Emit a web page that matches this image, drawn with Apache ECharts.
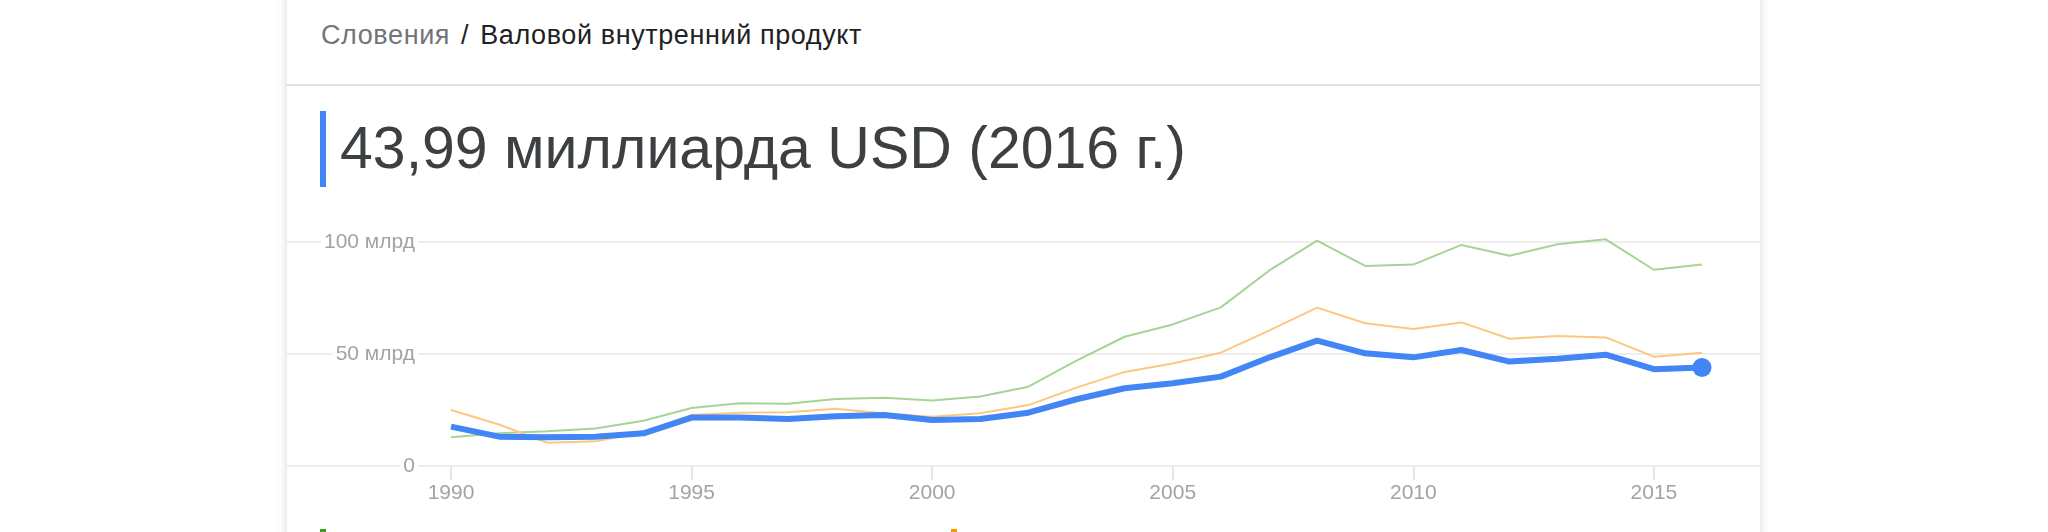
<!DOCTYPE html>
<html>
<head>
<meta charset="utf-8">
<script src="https://cdn.jsdelivr.net/npm/echarts@6/dist/echarts.min.js"></script>
<style>
  html, body { margin: 0; padding: 0; background: #fff; }
  body { width: 2048px; height: 532px; overflow: hidden; position: relative; font-family: "Liberation Sans", Arial, sans-serif; }
  .card { position: absolute; left: 287px; top: -20px; width: 1473px; height: 700px; background: #fff;
          box-shadow: 0 0 9px rgba(60, 64, 67, 0.22); }
  .divider { position: absolute; left: 287px; top: 84px; width: 1473px; height: 2px; background: #e1e1e4; }
  .crumbs { position: absolute; left: 321px; top: 22px; font-size: 27px; line-height: 27px; letter-spacing: 0.6px;
            color: #202124; white-space: nowrap; }
  .crumbs .country { color: #70757a; }
  .crumbs .sep { margin: 0 11px; color: #202124; }
  .bar { position: absolute; left: 320px; top: 111px; width: 6px; height: 76px; background: #4285f4; }
  .title { position: absolute; left: 340px; top: 119px; font-size: 59px; line-height: 59px; color: #3c4043; white-space: nowrap; }
  #chart { position: absolute; left: 0; top: 0; width: 2048px; height: 532px; }
  .key { position: absolute; top: 529px; width: 6px; height: 6px; }
</style>
</head>
<body>
<div class="card"></div>
<div class="divider"></div>
<div class="crumbs"><span class="country">Словения</span><span class="sep">/</span>Валовой внутренний продукт</div>
<div class="bar"></div>
<div class="title">43,99 миллиарда USD (2016 г.)</div>
<div id="chart"></div>
<div class="key" style="left:320px;background:#3d9b1a"></div>
<div class="key" style="left:951px;background:#f29900"></div>
<script>
// years on the x axis
const years = ["1990", "1991", "1992", "1993", "1994", "1995", "1996", "1997", "1998",
    "1999", "2000", "2001", "2002", "2003", "2004", "2005", "2006", "2007", "2008",
    "2009", "2010", "2011", "2012", "2013", "2014", "2015", "2016"];

// GDP, billions USD
const slovenia = [17.6, 13.1, 12.8, 13.1, 14.6, 21.6, 21.6, 21.0, 22.2, 22.8, 20.5, 21.0, 23.8,
    29.8, 34.7, 36.9, 39.9, 48.4, 56.0, 50.3, 48.5, 51.8, 46.6, 47.9, 49.7, 43.2, 43.99];
const croatia = [25.0, 18.5, 10.4, 11.0, 15.0, 22.8, 23.8, 24.0, 25.6, 23.4, 22.0, 23.5, 27.2,
    35.0, 42.0, 45.8, 50.6, 60.4, 70.7, 63.7, 61.2, 64.1, 56.8, 58.0, 57.4, 48.8, 50.6];
const slovakia = [12.8, 14.6, 15.5, 16.7, 20.2, 25.9, 28.0, 27.8, 29.9, 30.5, 29.2, 31.0, 35.4,
    47.0, 57.7, 63.2, 70.8, 87.2, 100.6, 89.3, 89.9, 98.7, 93.9, 99.0, 101.2, 87.6, 90.0];

const yTicks = [0, 50, 100];

const labelFont = { fontFamily: "Liberation Sans, Arial, sans-serif", fontSize: 21, color: "#a3a3a3" };

// blue line gets a dot only on the last year
const sloveniaData = slovenia.map((v, i) =>
    i === slovenia.length - 1 ? { value: v, symbol: "circle", symbolSize: 19 } : v);

const chart = echarts.init(document.getElementById("chart"));

chart.setOption({
    animation: false,
    grid: [
        // full-width grid, only for the horizontal gridlines
        { left: 287, right: 288, top: 242, bottom: 66 },
        // plotting grid
        { left: 451, right: 346, top: 242, bottom: 66 },
    ],
    xAxis: [
        { gridIndex: 0, type: "category", data: years, show: false },
        {
            gridIndex: 1,
            type: "category",
            data: years,
            boundaryGap: false,
            axisLine: { show: false },
            axisTick: { show: true, interval: 4, length: 14, lineStyle: { color: "#e6e6e6", width: 2 } },
            axisLabel: Object.assign({ interval: 4, margin: 17 }, labelFont),
            splitLine: { show: false },
        },
    ],
    yAxis: [
        {
            gridIndex: 0,
            type: "value",
            min: yTicks[0],
            max: yTicks[yTicks.length - 1],
            interval: 50,
            z: 0,
            axisLine: { show: false },
            axisTick: { show: false },
            axisLabel: { show: false },
            splitLine: { lineStyle: { color: "#eeeeee", width: 2 } },
        },
        {
            gridIndex: 1,
            type: "value",
            min: yTicks[0],
            max: yTicks[yTicks.length - 1],
            interval: 50,
            z: 3,
            axisLine: { show: false },
            axisTick: { show: false },
            splitLine: { show: false },
            axisLabel: Object.assign({
                margin: 33,
                backgroundColor: "#fff",
                padding: [0, 3, 0, 3],
                formatter: (v) => (v === 0 ? "0" : v + " млрд"),
            }, labelFont),
        },
    ],
    series: [
        {
            name: "Словакия",
            type: "line",
            xAxisIndex: 1,
            yAxisIndex: 1,
            data: slovakia,
            symbol: "none",
            clip: false,
            lineStyle: { color: "#a6d396", width: 2 },
            z: 2,
        },
        {
            name: "Хорватия",
            type: "line",
            xAxisIndex: 1,
            yAxisIndex: 1,
            data: croatia,
            symbol: "none",
            clip: false,
            lineStyle: { color: "#fcc880", width: 2 },
            z: 3,
        },
        {
            name: "Словения",
            type: "line",
            xAxisIndex: 1,
            yAxisIndex: 1,
            data: sloveniaData,
            symbol: "none",
            showSymbol: true,
            clip: false,
            itemStyle: { color: "#4285f4" },
            lineStyle: { color: "#4285f4", width: 6 },
            z: 4,
        },
    ],
});
</script>
</body>
</html>
